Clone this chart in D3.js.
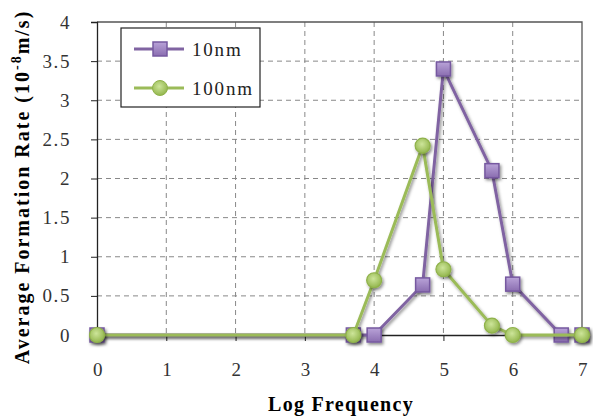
<!DOCTYPE html>
<html>
<head>
<meta charset="utf-8">
<script src="https://cdn.jsdelivr.net/npm/d3@7"></script>
<style>
  body { margin: 0; background: #fff; }
  svg { display: block; }
  .tick text { font-family: "Liberation Serif", serif; font-size: 19px; fill: #333; letter-spacing: 1.6px; }
</style>
</head>
<body>
<svg width="593" height="419"></svg>
<script>
// 10nm series
const x10 = [0, 3.7, 4, 4.7, 5, 5.7, 6, 6.7, 7];
const y10 = [0, 0, 0, 0.64, 3.4, 2.1, 0.65, 0, 0];
// 100nm series
const x100 = [0, 3.7, 4, 4.7, 5, 5.7, 6, 7];
const y100 = [0, 0, 0.7, 2.42, 0.84, 0.12, 0, 0];

const xTicks = [0, 1, 2, 3, 4, 5, 6, 7];
const yTicks = [0, 0.5, 1, 1.5, 2, 2.5, 3, 3.5, 4];

const purple = "#8064a2";
const green = "#9bbb59";

const svg = d3.select("svg");
const pL = 97, pR = 582, pT = 22, pB = 335;

const x = d3.scaleLinear().domain([0, 7]).range([pL, pR]);
const y = d3.scaleLinear().domain([0, 4]).range([pB, pT]);

// shadow filter
const defs = svg.append("defs");
const f = defs.append("filter").attr("id", "sh").attr("x", "-50%").attr("y", "-50%").attr("width", "200%").attr("height", "200%");
f.append("feDropShadow").attr("dx", 1.5).attr("dy", 2).attr("stdDeviation", 1.5)
  .attr("flood-color", "#000").attr("flood-opacity", 0.45);

const gp = defs.append("linearGradient").attr("id", "gp").attr("x1", 0).attr("y1", 0).attr("x2", 0).attr("y2", 1);
gp.append("stop").attr("offset", "0%").attr("stop-color", "#b9a3d8");
gp.append("stop").attr("offset", "100%").attr("stop-color", "#8a6db0");
const gg = defs.append("radialGradient").attr("id", "gg").attr("cx", "45%").attr("cy", "40%").attr("r", "60%");
gg.append("stop").attr("offset", "0%").attr("stop-color", "#cde59a");
gg.append("stop").attr("offset", "100%").attr("stop-color", "#93b64d");

// grid
svg.append("g").selectAll("line").data(yTicks.filter(d => d > 0 && d < 4)).join("line")
  .attr("x1", pL).attr("x2", pR).attr("y1", d => y(d)).attr("y2", d => y(d))
  .attr("stroke", "#888").attr("stroke-dasharray", "5,4");
svg.append("g").selectAll("line").data(xTicks.filter(d => d > 0 && d < 7)).join("line")
  .attr("x1", d => x(d)).attr("x2", d => x(d)).attr("y1", pT).attr("y2", pB)
  .attr("stroke", "#888").attr("stroke-dasharray", "5,4");

// border top/right
svg.append("path").attr("d", `M${pL},${pT}H${pR}V${pB}`)
  .attr("fill", "none").attr("stroke", "#555").attr("stroke-width", 1.3);

// axes
const xAxis = svg.append("g").attr("transform", `translate(0,${pB})`)
  .call(d3.axisBottom(x).tickValues(xTicks).tickSize(6).tickPadding(22).tickFormat(d3.format("d")));
xAxis.select(".domain").attr("stroke", "#222").attr("stroke-width", 1.3);
xAxis.selectAll(".tick line").attr("stroke", "#222");
xAxis.selectAll(".tick text").attr("dx", 1);

const yAxis = svg.append("g").attr("transform", `translate(${pL},0)`)
  .call(d3.axisLeft(y).tickValues(yTicks).tickSize(6).tickPadding(20).tickFormat(d => d));
yAxis.select(".domain").attr("stroke", "#222").attr("stroke-width", 1.3);
yAxis.selectAll(".tick line").attr("stroke", "#222");

// lines
const line = d3.line().x(d => x(d[0])).y(d => y(d[1]));
const d10 = x10.map((v, i) => [v, y10[i]]);
const d100 = x100.map((v, i) => [v, y100[i]]);

function squares(data) {
  svg.append("g").attr("filter", "url(#sh)").selectAll("rect").data(data).join("rect")
    .attr("x", d => x(d[0]) - 7).attr("y", d => y(d[1]) - 7)
    .attr("width", 14).attr("height", 14)
    .attr("fill", "url(#gp)").attr("stroke", "#7659a0").attr("stroke-width", 1.5);
}
function circles(data) {
  svg.append("g").attr("filter", "url(#sh)").selectAll("circle").data(data).join("circle")
    .attr("cx", d => x(d[0])).attr("cy", d => y(d[1])).attr("r", 7.5)
    .attr("fill", "url(#gg)").attr("stroke", "#8fb24a").attr("stroke-width", 1.2);
}

svg.append("path").datum(d10).attr("d", line).attr("fill", "none")
  .attr("stroke", purple).attr("stroke-width", 3).attr("filter", "url(#sh)");
squares(d10);
svg.append("path").datum(d100).attr("d", line).attr("fill", "none")
  .attr("stroke", green).attr("stroke-width", 3).attr("filter", "url(#sh)");
circles(d100);

// legend
const lg = svg.append("g");
lg.append("rect").attr("x", 121).attr("y", 28).attr("width", 139).attr("height", 79)
  .attr("fill", "#fff").attr("stroke", "#222").attr("stroke-width", 1.2);
lg.append("line").attr("x1", 134).attr("x2", 184).attr("y1", 49).attr("y2", 49)
  .attr("stroke", purple).attr("stroke-width", 3);
lg.append("rect").attr("x", 153).attr("y", 42).attr("width", 14).attr("height", 14)
  .attr("fill", "url(#gp)").attr("stroke", "#7659a0").attr("stroke-width", 1.5);
lg.append("line").attr("x1", 134).attr("x2", 184).attr("y1", 88).attr("y2", 88)
  .attr("stroke", green).attr("stroke-width", 3);
lg.append("circle").attr("cx", 160).attr("cy", 88).attr("r", 7.5)
  .attr("fill", "url(#gg)").attr("stroke", "#8fb24a");
lg.selectAll("text").data(["10nm", "100nm"]).join("text")
  .attr("x", 192).attr("y", (d, i) => 56 + i * 39)
  .attr("font-family", "Liberation Serif, serif").attr("font-size", 19).attr("fill", "#222")
  .attr("letter-spacing", 1.8)
  .text(d => d);

// axis titles
svg.append("text").attr("x", 341).attr("y", 411).attr("text-anchor", "middle")
  .attr("font-family", "Liberation Serif, serif").attr("font-weight", "bold").attr("font-size", 20)
  .attr("letter-spacing", 1.3).text("Log Frequency");

const yt = svg.append("text").attr("transform", "translate(29,187) rotate(-90)")
  .attr("text-anchor", "middle")
  .attr("font-family", "Liberation Serif, serif").attr("font-weight", "bold").attr("font-size", 20)
  .attr("letter-spacing", 2);
yt.append("tspan").text("Average Formation Rate (10");
yt.append("tspan").attr("dy", -8).attr("font-size", 14).text("-8");
yt.append("tspan").attr("dy", 8).text("m/s)");
</script>
</body>
</html>
